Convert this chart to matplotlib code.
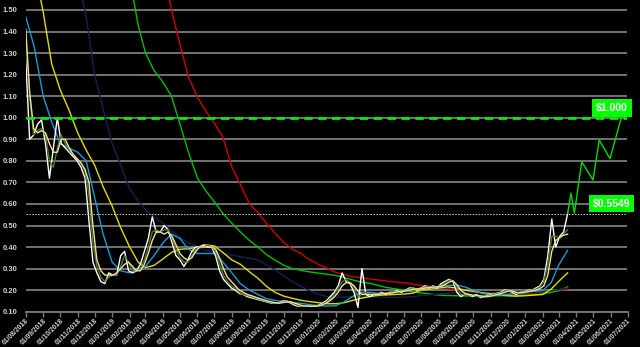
import numpy as np
import pandas as pd
import matplotlib
matplotlib.use("Agg")
import matplotlib.pyplot as plt
import matplotlib.dates as mdates
import matplotlib.transforms as mtrans

# weekly price and short moving averages (first value 2018-08-01)
price = [1.27, 0.90, 0.92, 0.97, 0.99, 0.88, 0.72, 0.86, 1.00, 0.88,
         0.86, 0.84, 0.82, 0.80, 0.77, 0.72, 0.52, 0.33, 0.28, 0.24,
         0.23, 0.28, 0.27, 0.27, 0.36, 0.38, 0.29, 0.28, 0.29, 0.32,
         0.38, 0.44, 0.54, 0.47, 0.47, 0.50, 0.48, 0.42, 0.36, 0.34,
         0.31, 0.34, 0.38, 0.40, 0.40, 0.41, 0.40, 0.40, 0.36, 0.29,
         0.25, 0.23, 0.21, 0.20, 0.185, 0.18, 0.17, 0.165, 0.16, 0.155,
         0.15, 0.145, 0.14, 0.14, 0.14, 0.15, 0.15, 0.14, 0.13, 0.125,
         0.125, 0.125, 0.125, 0.125, 0.13, 0.14, 0.15, 0.17, 0.19, 0.22,
         0.28, 0.24, 0.23, 0.19, 0.12, 0.30, 0.18, 0.17, 0.18, 0.18,
         0.19, 0.18, 0.19, 0.19, 0.20, 0.19, 0.20, 0.21, 0.21, 0.20,
         0.21, 0.22, 0.21, 0.22, 0.21, 0.23, 0.24, 0.25, 0.24, 0.19,
         0.17, 0.18, 0.18, 0.17, 0.18, 0.165, 0.17, 0.175, 0.18, 0.185,
         0.19, 0.20, 0.20, 0.19, 0.18, 0.19, 0.19, 0.20, 0.20, 0.21,
         0.22, 0.25, 0.36, 0.53, 0.40, 0.45, 0.47, 0.5549]
ma_short = [1.38, 1.10, 0.92, 0.94, 0.95, 0.92, 0.80, 0.77, 0.86, 0.92,
            0.88, 0.85, 0.83, 0.81, 0.79, 0.75, 0.64, 0.42, 0.31, 0.26,
            0.24, 0.26, 0.27, 0.27, 0.31, 0.36, 0.33, 0.29, 0.29, 0.30,
            0.34, 0.40, 0.47, 0.48, 0.47, 0.48, 0.48, 0.44, 0.39, 0.35,
            0.33, 0.33, 0.36, 0.39, 0.40, 0.40, 0.41, 0.40, 0.38, 0.32,
            0.27, 0.24, 0.22, 0.21, 0.19, 0.18, 0.175, 0.17, 0.163, 0.158,
            0.152, 0.147, 0.142, 0.14, 0.14, 0.145, 0.15, 0.145, 0.135, 0.128,
            0.125, 0.125, 0.125, 0.125, 0.128, 0.135, 0.145, 0.16, 0.18, 0.21,
            0.24, 0.25, 0.235, 0.21, 0.17, 0.18, 0.19, 0.18, 0.18, 0.18,
            0.185, 0.185, 0.187, 0.19, 0.195, 0.195, 0.197, 0.205, 0.21, 0.205,
            0.207, 0.215, 0.215, 0.217, 0.215, 0.222, 0.235, 0.245, 0.245, 0.21,
            0.18, 0.178, 0.18, 0.175, 0.176, 0.17, 0.168, 0.172, 0.178, 0.183,
            0.188, 0.196, 0.20, 0.195, 0.185, 0.187, 0.19, 0.196, 0.20, 0.205,
            0.215, 0.24, 0.32, 0.45, 0.45, 0.44, 0.46, 0.48]
ma_cream = [1.415, 1.12, 0.95, 0.93, 0.94, 0.93, 0.88, 0.84, 0.84, 0.90,
            0.90, 0.86, 0.83, 0.81, 0.79, 0.76, 0.70, 0.50, 0.34, 0.29,
            0.27, 0.27, 0.27, 0.28, 0.30, 0.32, 0.33, 0.31, 0.29, 0.29,
            0.32, 0.37, 0.43, 0.47, 0.47, 0.46, 0.47, 0.45, 0.41, 0.37,
            0.35, 0.34, 0.35, 0.38, 0.40, 0.40, 0.40, 0.40, 0.39, 0.35,
            0.30, 0.26, 0.24, 0.22, 0.20, 0.19, 0.18, 0.175, 0.168, 0.162,
            0.156, 0.15, 0.146, 0.142, 0.14, 0.142, 0.146, 0.146, 0.14, 0.134,
            0.128, 0.126, 0.125, 0.125, 0.127, 0.132, 0.14, 0.152, 0.168, 0.19,
            0.22, 0.235, 0.235, 0.22, 0.195, 0.18, 0.18, 0.18, 0.18, 0.18,
            0.183, 0.185, 0.186, 0.188, 0.192, 0.194, 0.196, 0.20, 0.205, 0.206,
            0.206, 0.21, 0.212, 0.215, 0.215, 0.218, 0.226, 0.237, 0.243, 0.225,
            0.20, 0.185, 0.18, 0.177, 0.176, 0.173, 0.17, 0.17, 0.174, 0.179,
            0.184, 0.19, 0.196, 0.196, 0.19, 0.188, 0.189, 0.193, 0.197, 0.20,
            0.207, 0.22, 0.27, 0.38, 0.43, 0.445, 0.455, 0.46]

# twice-monthly long moving averages (1st and 16th, last point 2021-03-17)
nan = np.nan
ma_blue = [1.47, 1.33, 1.10, 0.98, 0.88, 0.86, 0.84, 0.80, 0.63, 0.46,
           0.33, 0.29, 0.28, 0.30, 0.31, 0.36, 0.42, 0.46, 0.44, 0.39,
           0.37, 0.37, 0.37, 0.33, 0.28, 0.23, 0.20, 0.18, 0.16, 0.153,
           0.146, 0.142, 0.139, 0.133, 0.128, 0.126, 0.128, 0.146, 0.17, 0.19,
           0.19, 0.185, 0.185, 0.19, 0.195, 0.203, 0.21, 0.21, 0.215, 0.222,
           0.224, 0.215, 0.20, 0.185, 0.178, 0.178, 0.18, 0.186, 0.193, 0.195,
           0.198, 0.235, 0.315, 0.385]
ma_yellow = [nan, 1.70, 1.49, 1.25, 1.13, 1.04, 0.93, 0.85, 0.78, 0.68,
             0.59, 0.49, 0.40, 0.33, 0.305, 0.315, 0.345, 0.375, 0.39, 0.392,
             0.40, 0.41, 0.405, 0.375, 0.34, 0.32, 0.285, 0.255, 0.218, 0.19,
             0.172, 0.162, 0.153, 0.147, 0.142, 0.137, 0.137, 0.142, 0.152, 0.162,
             0.17, 0.176, 0.178, 0.18, 0.182, 0.186, 0.20, 0.205, 0.21, 0.215,
             0.21, 0.20, 0.195, 0.188, 0.183, 0.178, 0.174, 0.172, 0.174, 0.177,
             0.18, 0.205, 0.24, 0.28]
ma_navy = [nan, nan, nan, nan, nan, nan, 1.65, 1.47, 1.20, 1.04,
           0.88, 0.78, 0.67, 0.615, 0.575, 0.54, 0.51, 0.475, 0.445, 0.42,
           0.40, 0.385, 0.375, 0.37, 0.363, 0.355, 0.348, 0.34, 0.318, 0.295,
           0.265, 0.24, 0.218, 0.198, 0.182, 0.17, 0.168, 0.168, 0.17, 0.17,
           0.17, 0.168, 0.167, 0.167, 0.168, 0.17, 0.175, 0.178, 0.182, 0.186,
           0.19, 0.192, 0.192, 0.19, 0.188, 0.186, 0.185, 0.186, 0.188, 0.19,
           0.193, 0.197, 0.203, 0.21]
ma_green = [nan, nan, nan, nan, nan, nan, nan, nan, nan, nan,
            nan, nan, 1.65, 1.43, 1.30, 1.22, 1.165, 1.10, 0.97, 0.84,
            0.72, 0.66, 0.61, 0.555, 0.51, 0.47, 0.43, 0.40, 0.365, 0.34,
            0.315, 0.30, 0.292, 0.285, 0.279, 0.274, 0.268, 0.258, 0.248, 0.238,
            0.232, 0.222, 0.212, 0.206, 0.20, 0.192, 0.187, 0.182, 0.177, 0.175,
            0.174, 0.173, 0.173, 0.173, 0.173, 0.174, 0.175, 0.176, 0.177, 0.178,
            0.182, 0.19, 0.198, 0.215]
ma_red = [nan, nan, nan, nan, nan, nan, nan, nan, nan, nan,
          nan, nan, nan, nan, nan, nan, 1.70, 1.50, 1.34, 1.19,
          1.095, 1.03, 0.975, 0.91, 0.77, 0.69, 0.60, 0.56, 0.51, 0.465,
          0.42, 0.39, 0.37, 0.342, 0.32, 0.302, 0.282, 0.272, 0.262, 0.258,
          0.252, 0.247, 0.242, 0.238, 0.234, 0.228, 0.222, 0.218, 0.213, 0.207,
          0.20, 0.195, 0.192, 0.188, 0.186, 0.185, 0.185, 0.185, 0.186, 0.187,
          0.19, 0.193, 0.197, 0.205]

# projected path to the target
proj_dates = ["2021-03-17", "2021-03-23", "2021-03-29", "2021-04-11",
              "2021-05-01", "2021-05-12", "2021-05-31", "2021-06-20"]
proj_values = [0.5549, 0.65, 0.557, 0.796, 0.711, 0.897, 0.81, 1.0]

target = 1.0
current = 0.5549

weekly = pd.date_range("2018-08-01", periods=len(price), freq="7D")
halfmonth = []
for m in pd.date_range("2018-08-01", "2021-03-01", freq="MS"):
    halfmonth.append(m)
    if m < pd.Timestamp("2021-03-01"):
        halfmonth.append(m + pd.Timedelta(days=15))
halfmonth.append(pd.Timestamp("2021-03-17"))

plt.rcParams["font.family"] = ["Liberation Sans", "DejaVu Sans"]

fig = plt.figure(figsize=(6.4, 3.47), dpi=100, facecolor="black")
ax = fig.add_axes([25.7 / 640, 1 - 311.7 / 347, 601.8 / 640, 311.7 / 347])
ax.set_facecolor("black")

ax.set_ylim(0.10, 1.5 + 10 / 215.5)
ax.set_xlim(pd.Timestamp("2018-08-01"), pd.Timestamp("2021-07-01"))
ax.set_yticks(np.arange(0.1, 1.51, 0.1))
ax.yaxis.set_major_formatter(matplotlib.ticker.FormatStrFormatter("%.2f"))
ax.grid(axis="y", color="#7a7a7a", lw=1.3)
ax.set_axisbelow(True)

for s in ["left", "right", "top"]:
    ax.spines[s].set_visible(False)
ax.spines["bottom"].set_color("#7a7a7a")
ax.spines["bottom"].set_linewidth(1.3)

ax.xaxis.set_major_locator(mdates.MonthLocator())
ax.xaxis.set_major_formatter(mdates.DateFormatter("%d/%m/%Y"))
ax.tick_params(axis="x", colors="#7a7a7a", length=3.5, width=1, labelcolor="#d0d0d0",
               labelsize=4.9, pad=0.5)
ax.tick_params(axis="y", length=0, labelcolor="#d0d0d0", labelsize=5.5, pad=6)
for lab in ax.get_xticklabels():
    lab.set_rotation(45)
    lab.set_ha("right")
    lab.set_rotation_mode("anchor")
    lab.set_fontweight("bold")
for lab in ax.get_yticklabels():
    lab.set_fontweight("bold")

lw = 1.0
ax.plot(halfmonth, ma_red, color="#d00000", lw=lw)
ax.plot(halfmonth, ma_green, color="#00c000", lw=lw)
ax.plot(halfmonth, ma_navy, color="#0f2456", lw=lw)
ax.plot(halfmonth, ma_yellow, color="#e3dc00", lw=lw)
ax.plot(halfmonth, ma_blue, color="#1c9ad6", lw=lw)
ax.plot(weekly, price, color="white", lw=lw)
ax.plot(weekly, ma_short, color="#4f7a26", lw=lw)
ax.plot(weekly, ma_cream, color="#f4dc9c", lw=lw)
ax.plot(pd.to_datetime(proj_dates), proj_values, color="#00dd00", lw=lw)

ax.axhline(target, color="#00ee00", lw=2, ls=(0, (3, 2)))
ax.axhline(current, color="#cfcfcf", lw=0.7, ls=(0, (1.5, 1.5)))

blend = mtrans.blended_transform_factory(ax.transAxes, ax.transData)
ax.text(0.974, 1.045, "$1.000", transform=blend, ha="center", va="center",
        color="white", fontsize=7.5, fontweight="bold", clip_on=False,
        bbox=dict(boxstyle="square,pad=0.4", fc="#00ff00", ec="none"))
ax.text(0.974, 0.601, "$0.5549", transform=blend, ha="center", va="center",
        color="white", fontsize=7.5, fontweight="bold", clip_on=False,
        bbox=dict(boxstyle="square,pad=0.35", fc="#00ff00", ec="none"))

fig.savefig("out.png", dpi=100, facecolor="black")
